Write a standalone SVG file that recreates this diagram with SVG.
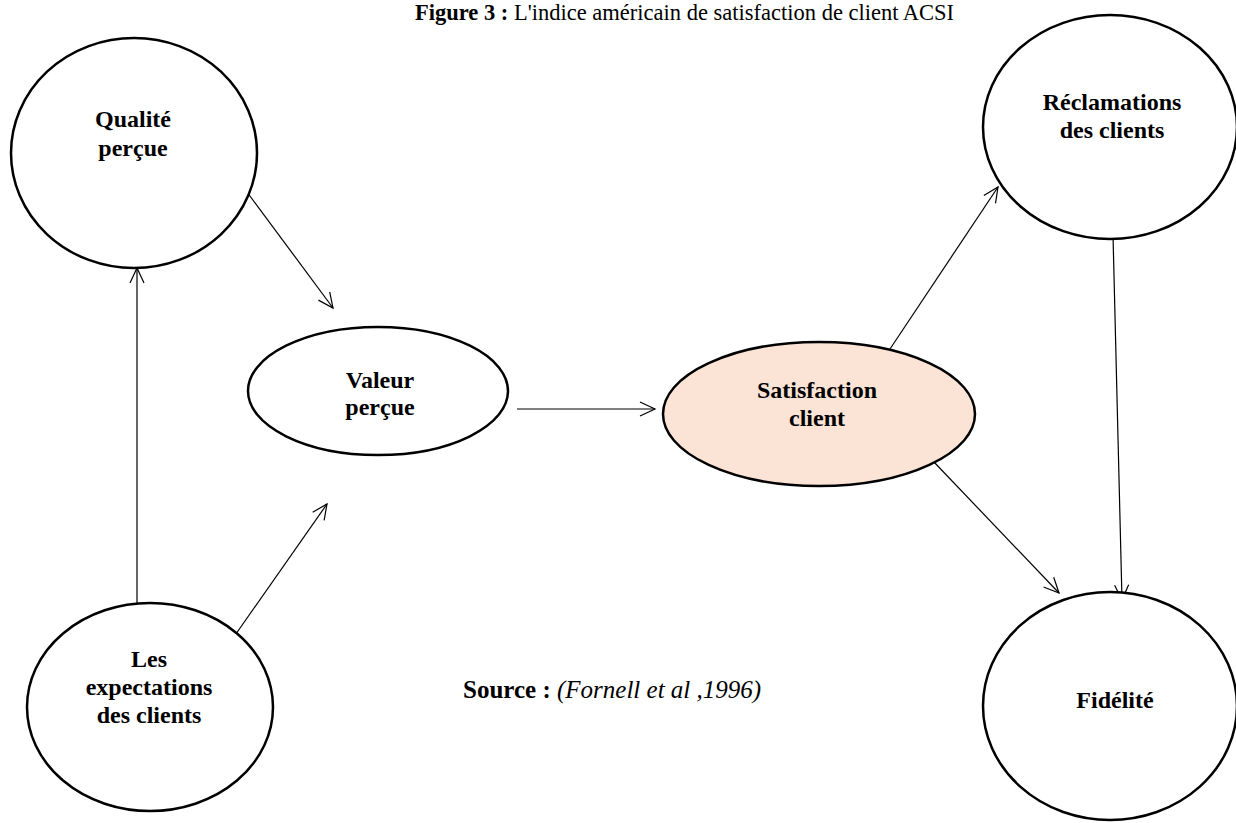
<svg xmlns="http://www.w3.org/2000/svg" width="1236" height="823" viewBox="0 0 1236 823">
  <defs>
    <style>
      .node { fill: #ffffff; stroke: #000000; stroke-width: 2.5; }
      .hl { fill: #fbe4d5; }
      .lbl { font-family: "Liberation Serif", "Times New Roman", serif; font-weight: bold; font-size: 24px; text-anchor: middle; fill: #000; }
      .edge { stroke: #000; stroke-width: 1.2; fill: none; marker-end: url(#arrow); }
      .title { font-family: "Liberation Serif", "Times New Roman", serif; font-size: 22.5px; fill: #000; }
      .src { font-family: "Liberation Serif", "Times New Roman", serif; font-size: 25px; fill: #000; }
    </style>
    <!-- open chevron arrowhead shared by all connectors -->
    <marker id="arrow" markerUnits="userSpaceOnUse" markerWidth="20" markerHeight="20" refX="16" refY="8" orient="auto">
      <path d="M1,1 L16,8 L1,15" fill="none" stroke="#000" stroke-width="1.2"/>
    </marker>
  </defs>
  <rect width="1236" height="823" fill="#ffffff"/>

  <text class="title" x="415" y="20"><tspan font-weight="bold">Figure 3 :</tspan> L'indice américain de satisfaction de client ACSI</text>

  <g id="edges">
    <line class="edge" x1="137" y1="612" x2="137" y2="268"/>
    <line class="edge" x1="231" y1="641" x2="327" y2="504"/>
    <line class="edge" x1="247" y1="192" x2="333" y2="308"/>
    <line class="edge" x1="517" y1="409" x2="655" y2="409"/>
    <line class="edge" x1="888" y1="352" x2="998" y2="187"/>
    <line class="edge" x1="933" y1="461" x2="1059" y2="593"/>
    <line class="edge" x1="1113" y1="235" x2="1122" y2="600"/>
  </g>

  <g id="qualite">
    <ellipse class="node" cx="134" cy="153" rx="123" ry="115"/>
    <text class="lbl" x="133" y="127">Qualité</text>
    <text class="lbl" x="133" y="156">perçue</text>
  </g>

  <g id="valeur">
    <ellipse class="node" cx="378" cy="391" rx="130" ry="64"/>
    <text class="lbl" x="380" y="388">Valeur</text>
    <text class="lbl" x="380" y="415">perçue</text>
  </g>

  <g id="satisfaction">
    <ellipse class="node hl" cx="819" cy="414" rx="156" ry="72"/>
    <text class="lbl" x="817" y="398">Satisfaction</text>
    <text class="lbl" x="817" y="426">client</text>
  </g>

  <g id="reclamations">
    <ellipse class="node" cx="1110" cy="127" rx="127" ry="112"/>
    <text class="lbl" x="1112" y="110">Réclamations</text>
    <text class="lbl" x="1112" y="138">des clients</text>
  </g>

  <g id="expectations">
    <ellipse class="node" cx="150" cy="707" rx="123" ry="104"/>
    <text class="lbl" x="149" y="667">Les</text>
    <text class="lbl" x="149" y="695">expectations</text>
    <text class="lbl" x="149" y="723">des clients</text>
  </g>

  <g id="fidelite">
    <ellipse class="node" cx="1110" cy="706" rx="127" ry="114"/>
    <text class="lbl" x="1115" y="708">Fidélité</text>
  </g>

  <text class="src" x="463" y="698"><tspan font-weight="bold">Source : </tspan><tspan font-style="italic">(Fornell et al ,1996)</tspan></text>
</svg>
